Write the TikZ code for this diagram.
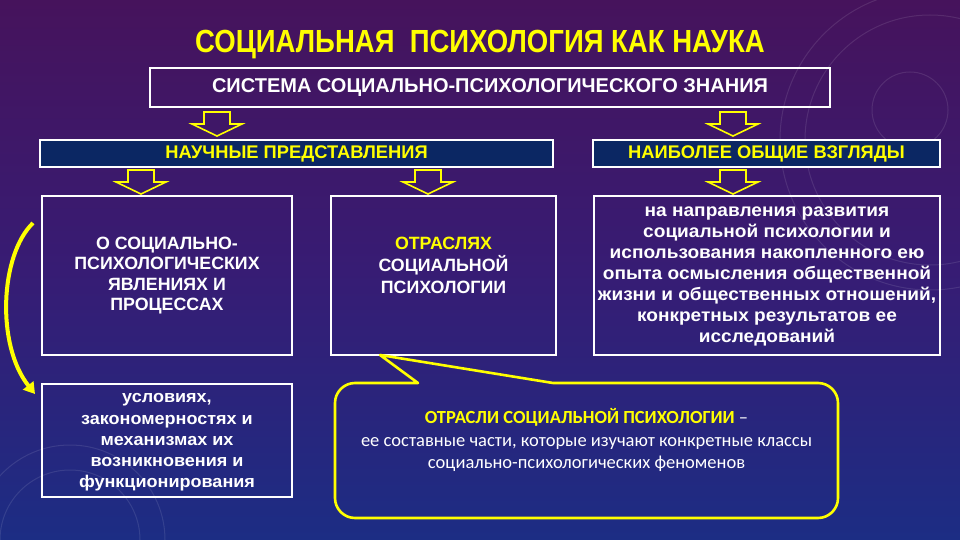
\documentclass[tikz,border=0pt]{standalone}
\usepackage{fontspec}
\setmainfont{Liberation Sans}
\newfontfamily\calfont{Carlito}
\newfontfamily\titlefont[FakeStretch=0.86]{Liberation Sans}
\newfontfamily\widefont[FakeStretch=1.06]{Liberation Sans}
\usetikzlibrary{arrows.meta}
\definecolor{bgtop}{HTML}{46135C}
\definecolor{bgmid}{HTML}{371C74}
\definecolor{bgbot}{HTML}{1C2D84}
\definecolor{ylw}{HTML}{FFFF00}
\definecolor{navy}{HTML}{0B2763}
\begin{document}
\begin{tikzpicture}[x=1pt,y=-1pt,
  box/.style={draw=white, line width=1.8pt, inner sep=0pt},
  btxt/.style={text=white, font=\bfseries\fontsize{17.8}{20.5}\selectfont, align=center, inner sep=0pt},
  ltxt/.style={text=white, font=\widefont\bfseries\fontsize{18}{21}\selectfont, align=center, inner sep=0pt},
  hdr/.style={box, fill=navy, minimum height=27pt, text=ylw, font=\bfseries\fontsize{18.3}{20}\selectfont},
  barrow/.pic={\draw[ylw, line width=1.6pt, line join=miter]
     (-13,0) -- (13,0) -- (13,12) -- (25,12) -- (0,24) -- (-25,12) -- (-13,12) -- cycle;},
  deco/.style={draw=white, opacity=0.1, line width=1pt},
]
\fill[top color=bgtop, bottom color=bgbot, middle color=bgmid] (0,0) rectangle (960,540);
\useasboundingbox (0,0) rectangle (960,540);
% faint theme circles
\draw[deco] (930,140) circle (150);
\draw[deco] (930,140) circle (125);
\draw[deco] (910,110) circle (38);
\draw[deco] (70,540) circle (70);
\draw[deco] (70,540) circle (95);

% title
\node[text=ylw, font=\titlefont\bfseries\fontsize{32}{36}\selectfont, inner sep=0pt] (title) at (480,45) {СОЦИАЛЬНАЯ\ \ ПСИХОЛОГИЯ КАК НАУКА};

% system box
\node[box, minimum width=680pt, minimum height=39pt, text=white,
      font=\bfseries\fontsize{20}{24}\selectfont] (sys) at (490,87.5) {СИСТЕМА СОЦИАЛЬНО-ПСИХОЛОГИЧЕСКОГО ЗНАНИЯ};

% row 2
\node[hdr, minimum width=513pt] (nauch) at (296.5,153.5) {НАУЧНЫЕ ПРЕДСТАВЛЕНИЯ};
\node[hdr, minimum width=347pt] (obsh) at (766.5,153.5) {НАИБОЛЕЕ ОБЩИЕ ВЗГЛЯДЫ};

% block arrows
\pic at (217,112) {barrow};
\pic at (733,112) {barrow};
\pic at (141,170) {barrow};
\pic at (428,170) {barrow};
\pic at (733,170) {barrow};

% row 3 boxes
\node[box, minimum width=250pt, minimum height=159pt] (b1) at (167,275.5) {};
\node[btxt] (b1t) at (b1.center) {О СОЦИАЛЬНО-\\ПСИХОЛОГИЧЕСКИХ\\ЯВЛЕНИЯХ И\\ПРОЦЕССАХ};

\node[box, minimum width=225pt, minimum height=159pt] (b2) at (443.5,275.5) {};
\node[btxt, font=\bfseries\fontsize{17.8}{22}\selectfont] (b2t) at (443.5,265) {\textcolor{ylw}{ОТРАСЛЯХ}\\СОЦИАЛЬНОЙ\\ПСИХОЛОГИИ};

\node[box, minimum width=346pt, minimum height=159pt] (b3) at (767,275.5) {};
\node[ltxt] (b3t) at (767,276.5) {на направления развития\\социальной психологии и\\использования накопленного ею\\опыта осмысления общественной\\жизни и общественных отношений,\\конкретных результатов ее\\исследований};

% row 4
\node[box, minimum width=250pt, minimum height=113pt] (b4) at (167,440.5) {};
\node[ltxt, font=\widefont\bfseries\fontsize{17}{21.3}\selectfont] (b4t) at (167,442.5) {условиях,\\закономерностях и\\механизмах их\\возникновения и\\функционирования};

% curved arrow
\coordinate (cstart) at (33,223);
\coordinate (cend) at (35,394);
\draw[ylw, line width=4pt, -{Triangle[length=11pt,width=13pt]}] (cstart) .. controls (0,255) and (-4,345) .. (cend);

% callout
\node[minimum width=503pt, minimum height=135pt, inner sep=0pt] (co) at (586.5,450.5) {};
\coordinate (tip) at (380,355);
\coordinate (pl) at (418,383);
\coordinate (pr) at (553,383);
\draw[ylw, line width=2.6pt, line join=round]
  (pl) -- (355,383) .. controls (344,383) and (335,392) .. (335,403)
  -- (335,498) .. controls (335,509) and (344,518) .. (355,518)
  -- (818,518) .. controls (829,518) and (838,509) .. (838,498)
  -- (838,403) .. controls (838,392) and (829,383) .. (818,383)
  -- (pr) -- (tip) -- cycle;
\node[align=center, text=white, font=\calfont\fontsize{18.5}{22.5}\selectfont, inner sep=0pt] (cot) at (586.5,440)
  {\textcolor{ylw}{\bfseries ОТРАСЛИ СОЦИАЛЬНОЙ ПСИХОЛОГИИ} –\\ее составные части, которые изучают конкретные классы\\социально-психологических феноменов};
\end{tikzpicture}
\end{document}
